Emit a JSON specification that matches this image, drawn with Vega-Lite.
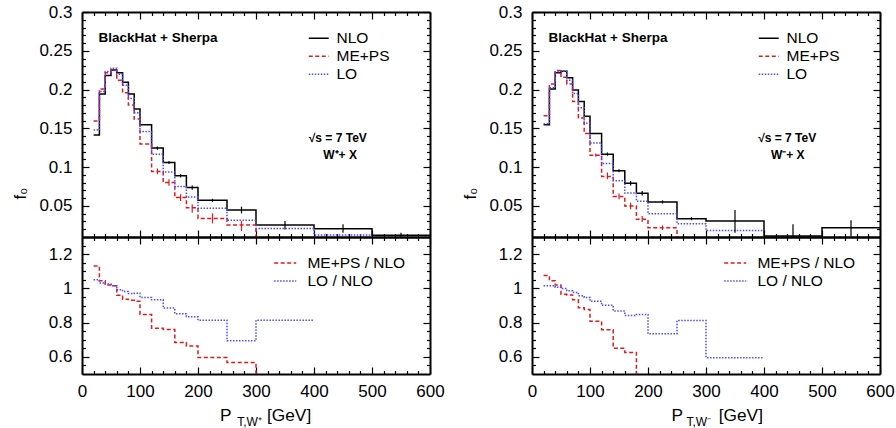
{
"$schema": "https://vega.github.io/schema/vega-lite/v6.json",
"autosize": {"type": "none"},
"padding": {"left": 82, "top": 12, "right": 814, "bottom": 416},
"background": "white",
"columns": 2,
"bounds": "flush",
"spacing": {"row": 0, "column": 102},
"resolve": {"scale": {"color": "independent", "strokeDash": "independent"}},
"config": {
  "view": {"stroke": null},
  "axis": {"grid": false, "labelFlush": false, "labelOverlap": false, "domainColor": "black", "domainWidth": 2, "tickColor": "black", "tickWidth": 1.2, "labelFont": "Liberation Sans", "labelFontSize": 17, "labelColor": "black", "titleFont": "Liberation Sans", "titleFontSize": 17, "titleFontWeight": "normal", "titleColor": "black"},
  "text": {"font": "Liberation Sans", "color": "black"}
},
"datasets": {
  "wp_hist": [
    {"series":"NLO","lo":20,"hi":30,"f":0.1414},{"series":"NLO","lo":30,"hi":40,"f":0.1944},{"series":"NLO","lo":40,"hi":50,"f":0.218},{"series":"NLO","lo":50,"hi":60,"f":0.2254},{"series":"NLO","lo":60,"hi":70,"f":0.2216},{"series":"NLO","lo":70,"hi":80,"f":0.2095},{"series":"NLO","lo":80,"hi":90,"f":0.1944},{"series":"NLO","lo":90,"hi":100,"f":0.175},{"series":"NLO","lo":100,"hi":120,"f":0.1547},{"series":"NLO","lo":120,"hi":140,"f":0.1246},{"series":"NLO","lo":140,"hi":160,"f":0.106},{"series":"NLO","lo":160,"hi":180,"f":0.0888},{"series":"NLO","lo":180,"hi":200,"f":0.0737},{"series":"NLO","lo":200,"hi":250,"f":0.0573},{"series":"NLO","lo":250,"hi":300,"f":0.0448},{"series":"NLO","lo":300,"hi":400,"f":0.0254},{"series":"NLO","lo":400,"hi":500,"f":0.0207},{"series":"NLO","lo":500,"hi":600,"f":0.0121},
    {"series":"ME+PS","lo":20,"hi":30,"f":0.1595},{"series":"ME+PS","lo":30,"hi":40,"f":0.2009},{"series":"ME+PS","lo":40,"hi":50,"f":0.2216},{"series":"ME+PS","lo":50,"hi":60,"f":0.2246},{"series":"ME+PS","lo":60,"hi":70,"f":0.212},{"series":"ME+PS","lo":70,"hi":80,"f":0.196},{"series":"ME+PS","lo":80,"hi":90,"f":0.18},{"series":"ME+PS","lo":90,"hi":100,"f":0.162},{"series":"ME+PS","lo":100,"hi":120,"f":0.13},{"series":"ME+PS","lo":120,"hi":140,"f":0.0944},{"series":"ME+PS","lo":140,"hi":160,"f":0.0802},{"series":"ME+PS","lo":160,"hi":180,"f":0.0608},{"series":"ME+PS","lo":180,"hi":200,"f":0.0478},{"series":"ME+PS","lo":200,"hi":250,"f":0.034},{"series":"ME+PS","lo":250,"hi":300,"f":0.0254},{"series":"ME+PS","lo":300,"hi":400,"f":0.005},
    {"series":"LO","lo":20,"hi":30,"f":0.1478},{"series":"LO","lo":30,"hi":40,"f":0.1974},{"series":"LO","lo":40,"hi":50,"f":0.2233},{"series":"LO","lo":50,"hi":60,"f":0.2276},{"series":"LO","lo":60,"hi":70,"f":0.2198},{"series":"LO","lo":70,"hi":80,"f":0.2057},{"series":"LO","lo":80,"hi":90,"f":0.1886},{"series":"LO","lo":90,"hi":100,"f":0.17},{"series":"LO","lo":100,"hi":120,"f":0.146},{"series":"LO","lo":120,"hi":140,"f":0.1166},{"series":"LO","lo":140,"hi":160,"f":0.0939},{"series":"LO","lo":160,"hi":180,"f":0.075},{"series":"LO","lo":180,"hi":200,"f":0.0616},{"series":"LO","lo":200,"hi":250,"f":0.047},{"series":"LO","lo":250,"hi":300,"f":0.0315},{"series":"LO","lo":300,"hi":400,"f":0.0211},{"series":"LO","lo":400,"hi":500,"f":0.0125}
  ],
  "wp_err": [
    {"series":"NLO","x":130,"lo":0.1226,"hi":0.1266},{"series":"NLO","x":150,"lo":0.104,"hi":0.108},{"series":"NLO","x":170,"lo":0.0868,"hi":0.0908},{"series":"NLO","x":190,"lo":0.071,"hi":0.0765},{"series":"NLO","x":225,"lo":0.0553,"hi":0.0593},{"series":"NLO","x":275,"lo":0.0405,"hi":0.0491},{"series":"NLO","x":350,"lo":0.0198,"hi":0.0306},{"series":"NLO","x":450,"lo":0.0155,"hi":0.0263},{"series":"NLO","x":550,"lo":0.0103,"hi":0.0155},
    {"series":"ME+PS","x":130,"lo":0.0909,"hi":0.0983},{"series":"ME+PS","x":150,"lo":0.0759,"hi":0.0845},{"series":"ME+PS","x":170,"lo":0.0565,"hi":0.065},{"series":"ME+PS","x":190,"lo":0.0414,"hi":0.0522},{"series":"ME+PS","x":225,"lo":0.0276,"hi":0.0405},{"series":"ME+PS","x":275,"lo":0.0177,"hi":0.0306}
  ],
  "wp_ratio": [
    {"series":"ME+PS / NLO","lo":20,"hi":30,"r":1.13},{"series":"ME+PS / NLO","lo":30,"hi":40,"r":1.045},{"series":"ME+PS / NLO","lo":40,"hi":50,"r":1.02},{"series":"ME+PS / NLO","lo":50,"hi":60,"r":1.016},{"series":"ME+PS / NLO","lo":60,"hi":70,"r":0.96},{"series":"ME+PS / NLO","lo":70,"hi":80,"r":0.937},{"series":"ME+PS / NLO","lo":80,"hi":90,"r":0.93},{"series":"ME+PS / NLO","lo":90,"hi":100,"r":0.925},{"series":"ME+PS / NLO","lo":100,"hi":120,"r":0.848},{"series":"ME+PS / NLO","lo":120,"hi":140,"r":0.767},{"series":"ME+PS / NLO","lo":140,"hi":160,"r":0.76},{"series":"ME+PS / NLO","lo":160,"hi":180,"r":0.684},{"series":"ME+PS / NLO","lo":180,"hi":200,"r":0.664},{"series":"ME+PS / NLO","lo":200,"hi":250,"r":0.597},{"series":"ME+PS / NLO","lo":250,"hi":300,"r":0.567},{"series":"ME+PS / NLO","lo":300,"hi":400,"r":0.45},
    {"series":"LO / NLO","lo":20,"hi":30,"r":1.05},{"series":"LO / NLO","lo":30,"hi":40,"r":1.032},{"series":"LO / NLO","lo":40,"hi":50,"r":1.026},{"series":"LO / NLO","lo":50,"hi":60,"r":1.016},{"series":"LO / NLO","lo":60,"hi":70,"r":0.992},{"series":"LO / NLO","lo":70,"hi":80,"r":0.982},{"series":"LO / NLO","lo":80,"hi":90,"r":0.97},{"series":"LO / NLO","lo":90,"hi":100,"r":0.972},{"series":"LO / NLO","lo":100,"hi":120,"r":0.947},{"series":"LO / NLO","lo":120,"hi":140,"r":0.933},{"series":"LO / NLO","lo":140,"hi":160,"r":0.885},{"series":"LO / NLO","lo":160,"hi":180,"r":0.852},{"series":"LO / NLO","lo":180,"hi":200,"r":0.834},{"series":"LO / NLO","lo":200,"hi":250,"r":0.814},{"series":"LO / NLO","lo":250,"hi":300,"r":0.694},{"series":"LO / NLO","lo":300,"hi":400,"r":0.814}
  ],
  "wm_hist": [
    {"series":"NLO","lo":20,"hi":30,"f":0.1547},{"series":"NLO","lo":30,"hi":40,"f":0.2009},{"series":"NLO","lo":40,"hi":50,"f":0.2216},{"series":"NLO","lo":50,"hi":60,"f":0.2237},{"series":"NLO","lo":60,"hi":70,"f":0.2151},{"series":"NLO","lo":70,"hi":80,"f":0.1996},{"series":"NLO","lo":80,"hi":90,"f":0.1845},{"series":"NLO","lo":90,"hi":100,"f":0.1655},{"series":"NLO","lo":100,"hi":120,"f":0.1435},{"series":"NLO","lo":120,"hi":140,"f":0.1168},{"series":"NLO","lo":140,"hi":160,"f":0.0953},{"series":"NLO","lo":160,"hi":180,"f":0.0793},{"series":"NLO","lo":180,"hi":200,"f":0.0664},{"series":"NLO","lo":200,"hi":250,"f":0.0552},{"series":"NLO","lo":250,"hi":300,"f":0.0336},{"series":"NLO","lo":300,"hi":400,"f":0.0306},{"series":"NLO","lo":400,"hi":500,"f":0.0112},{"series":"NLO","lo":500,"hi":600,"f":0.022},
    {"series":"ME+PS","lo":20,"hi":30,"f":0.1664},{"series":"ME+PS","lo":30,"hi":40,"f":0.2073},{"series":"ME+PS","lo":40,"hi":50,"f":0.2246},{"series":"ME+PS","lo":50,"hi":60,"f":0.216},{"series":"ME+PS","lo":60,"hi":70,"f":0.2073},{"series":"ME+PS","lo":70,"hi":80,"f":0.1845},{"series":"ME+PS","lo":80,"hi":90,"f":0.1634},{"series":"ME+PS","lo":90,"hi":100,"f":0.1435},{"series":"ME+PS","lo":100,"hi":120,"f":0.1155},{"series":"ME+PS","lo":120,"hi":140,"f":0.0879},{"series":"ME+PS","lo":140,"hi":160,"f":0.0621},{"series":"ME+PS","lo":160,"hi":180,"f":0.05},{"series":"ME+PS","lo":180,"hi":200,"f":0.0328},{"series":"ME+PS","lo":200,"hi":250,"f":0.022},{"series":"ME+PS","lo":250,"hi":300,"f":0.005},
    {"series":"LO","lo":20,"hi":30,"f":0.156},{"series":"LO","lo":30,"hi":40,"f":0.2025},{"series":"LO","lo":40,"hi":50,"f":0.223},{"series":"LO","lo":50,"hi":60,"f":0.2237},{"series":"LO","lo":60,"hi":70,"f":0.212},{"series":"LO","lo":70,"hi":80,"f":0.1948},{"series":"LO","lo":80,"hi":90,"f":0.1766},{"series":"LO","lo":90,"hi":100,"f":0.1567},{"series":"LO","lo":100,"hi":120,"f":0.131},{"series":"LO","lo":120,"hi":140,"f":0.1047},{"series":"LO","lo":140,"hi":160,"f":0.0825},{"series":"LO","lo":160,"hi":180,"f":0.0666},{"series":"LO","lo":180,"hi":200,"f":0.056},{"series":"LO","lo":200,"hi":250,"f":0.04},{"series":"LO","lo":250,"hi":300,"f":0.0272},{"series":"LO","lo":300,"hi":400,"f":0.0184}
  ],
  "wm_err": [
    {"series":"NLO","x":130,"lo":0.1148,"hi":0.1188},{"series":"NLO","x":150,"lo":0.0933,"hi":0.0973},{"series":"NLO","x":170,"lo":0.0765,"hi":0.0821},{"series":"NLO","x":190,"lo":0.0636,"hi":0.0692},{"series":"NLO","x":225,"lo":0.0532,"hi":0.0572},{"series":"NLO","x":275,"lo":0.0316,"hi":0.0356},{"series":"NLO","x":350,"lo":0.0155,"hi":0.0448},{"series":"NLO","x":450,"lo":0.0103,"hi":0.0263},{"series":"NLO","x":550,"lo":0.0103,"hi":0.0315},
    {"series":"ME+PS","x":110,"lo":0.1135,"hi":0.1175},{"series":"ME+PS","x":130,"lo":0.0845,"hi":0.0931},{"series":"ME+PS","x":150,"lo":0.0586,"hi":0.066},{"series":"ME+PS","x":170,"lo":0.0457,"hi":0.0543},{"series":"ME+PS","x":190,"lo":0.0293,"hi":0.0371},{"series":"ME+PS","x":225,"lo":0.019,"hi":0.025}
  ],
  "wm_ratio": [
    {"series":"ME+PS / NLO","lo":20,"hi":30,"r":1.075},{"series":"ME+PS / NLO","lo":30,"hi":40,"r":1.045},{"series":"ME+PS / NLO","lo":40,"hi":50,"r":1.02},{"series":"ME+PS / NLO","lo":50,"hi":60,"r":0.966},{"series":"ME+PS / NLO","lo":60,"hi":70,"r":0.962},{"series":"ME+PS / NLO","lo":70,"hi":80,"r":0.933},{"series":"ME+PS / NLO","lo":80,"hi":90,"r":0.887},{"series":"ME+PS / NLO","lo":90,"hi":100,"r":0.877},{"series":"ME+PS / NLO","lo":100,"hi":120,"r":0.808},{"series":"ME+PS / NLO","lo":120,"hi":140,"r":0.759},{"series":"ME+PS / NLO","lo":140,"hi":160,"r":0.65},{"series":"ME+PS / NLO","lo":160,"hi":180,"r":0.626},{"series":"ME+PS / NLO","lo":180,"hi":200,"r":0.49},{"series":"ME+PS / NLO","lo":200,"hi":250,"r":0.4},
    {"series":"LO / NLO","lo":20,"hi":30,"r":1.016},{"series":"LO / NLO","lo":30,"hi":40,"r":1.016},{"series":"LO / NLO","lo":40,"hi":50,"r":1.006},{"series":"LO / NLO","lo":50,"hi":60,"r":1.0},{"series":"LO / NLO","lo":60,"hi":70,"r":0.986},{"series":"LO / NLO","lo":70,"hi":80,"r":0.976},{"series":"LO / NLO","lo":80,"hi":90,"r":0.957},{"series":"LO / NLO","lo":90,"hi":100,"r":0.947},{"series":"LO / NLO","lo":100,"hi":120,"r":0.925},{"series":"LO / NLO","lo":120,"hi":140,"r":0.901},{"series":"LO / NLO","lo":140,"hi":160,"r":0.868},{"series":"LO / NLO","lo":160,"hi":180,"r":0.842},{"series":"LO / NLO","lo":180,"hi":200,"r":0.848},{"series":"LO / NLO","lo":200,"hi":250,"r":0.735},{"series":"LO / NLO","lo":250,"hi":300,"r":0.812},{"series":"LO / NLO","lo":300,"hi":400,"r":0.595}
  ]
},
"concat": [
   {
    "width": 348, "height": 225,
    "resolve": {"axis": {"x": "independent", "y": "independent"}},
    "layer": [
     {
      "data": {"name": "wp_hist"},
      "transform": [{"fold": ["lo", "hi"], "as": ["edge", "x"]}],
      "mark": {"type": "line", "clip": true, "strokeWidth": 1.5},
      "encoding": {
       "x": {"field": "x", "type": "quantitative", "scale": {"domain": [0, 600], "nice": false, "zero": false}, "axis": {"orient": "bottom", "values": [0,100,200,300,400,500,600], "tickSize": -7, "labels": false, "title": null}},
       "y": {"field": "f", "type": "quantitative", "scale": {"domain": [0.01, 0.3], "nice": false, "zero": false}, "axis": {"orient": "left", "values": [0.05,0.1,0.15,0.2,0.25,0.3], "tickSize": -7, "labelPadding": 17, "labelExpr": "format(datum.value, '~g')", "title": "f₀", "titleX": -62, "titleY": 181, "titleAngle": 270, "titleAlign": "center", "titleBaseline": "middle"}},
       "color": {"field": "series", "type": "nominal", "scale": {"domain": ["NLO", "ME+PS", "LO"], "range": ["#000000", "#e31a1c", "#4a4aff"]}, "legend": {"orient": "none", "legendX": 227.75, "legendY": 17.25, "title": null, "symbolType": "M-1.21,0H1.21", "symbolSize": 272, "symbolStrokeWidth": 1.5, "labelFont": "Liberation Sans", "labelFontSize": 15.5, "labelColor": "black", "labelOffset": 8.75, "rowPadding": 0, "padding": 0}},
       "strokeDash": {"field": "series", "type": "nominal", "scale": {"domain": ["NLO", "ME+PS", "LO"], "range": [[1, 0], [4, 2.5], [1.5, 1.5]]}, "legend": {"orient": "none", "legendX": 227.75, "legendY": 17.25, "title": null, "symbolType": "M-1.21,0H1.21", "symbolSize": 272, "symbolStrokeWidth": 1.5, "labelFont": "Liberation Sans", "labelFontSize": 15.5, "labelColor": "black", "labelOffset": 8.75, "rowPadding": 0, "padding": 0}}
      }
     },
     {
      "data": {"name": "wp_err"},
      "mark": {"type": "rule", "clip": true, "strokeWidth": 1.2},
      "encoding": {
       "x": {"field": "x", "type": "quantitative", "scale": {"domain": [0, 600], "nice": false, "zero": false}, "axis": {"orient": "bottom", "values": [20,40,60,80,120,140,160,180,220,240,260,280,320,340,360,380,420,440,460,480,520,540,560,580], "tickSize": -3.5, "labels": false, "domain": false, "title": null}},
       "y": {"field": "lo", "type": "quantitative", "scale": {"domain": [0.01, 0.3], "nice": false, "zero": false}, "axis": {"orient": "left", "values": [0.02,0.03,0.04,0.06,0.07,0.08,0.09,0.11,0.12,0.13,0.14,0.16,0.17,0.18,0.19,0.21,0.22,0.23,0.24,0.26,0.27,0.28,0.29], "tickSize": -3.5, "labels": false, "domain": false, "title": null}},
       "y2": {"field": "hi"},
       "color": {"field": "series", "type": "nominal", "scale": {"domain": ["NLO", "ME+PS", "LO"], "range": ["#000000", "#e31a1c", "#4a4aff"]}, "legend": null}
      }
     },
     {
      "data": {"values": [{}]},
      "mark": {"type": "text", "text": "BlackHat + Sherpa", "fontWeight": "bold", "fontSize": 13.5, "align": "left", "baseline": "middle"},
      "encoding": {
       "x": {"datum": 28.5, "type": "quantitative", "scale": {"domain": [0, 600], "nice": false, "zero": false}, "axis": {"orient": "top", "values": [0,100,200,300,400,500,600], "tickSize": -7, "labels": false, "title": null}},
       "y": {"datum": 0.2668, "type": "quantitative", "scale": {"domain": [0.01, 0.3], "nice": false, "zero": false}, "axis": {"orient": "right", "values": [0.05,0.1,0.15,0.2,0.25,0.3], "tickSize": -7, "labels": false, "title": null}}
      }
     },
     {
      "data": {"values": [{}]},
      "mark": {"type": "text", "text": "√s = 7 TeV", "fontWeight": "bold", "fontSize": 12, "align": "center", "baseline": "middle"},
      "encoding": {
       "x": {"datum": 441, "type": "quantitative", "scale": {"domain": [0, 600], "nice": false, "zero": false}, "axis": {"orient": "top", "values": [20,40,60,80,120,140,160,180,220,240,260,280,320,340,360,380,420,440,460,480,520,540,560,580], "tickSize": -3.5, "labels": false, "domain": false, "title": null}},
       "y": {"datum": 0.1376, "type": "quantitative", "scale": {"domain": [0.01, 0.3], "nice": false, "zero": false}, "axis": {"orient": "right", "values": [0.02,0.03,0.04,0.06,0.07,0.08,0.09,0.11,0.12,0.13,0.14,0.16,0.17,0.18,0.19,0.21,0.22,0.23,0.24,0.26,0.27,0.28,0.29], "tickSize": -3.5, "labels": false, "domain": false, "title": null}}
      }
     },
     {
      "data": {"values": [{}]},
      "mark": {"type": "text", "text": "W⁺+ X", "fontWeight": "bold", "fontSize": 12, "align": "center", "baseline": "middle"},
      "encoding": {
       "x": {"datum": 445, "type": "quantitative", "scale": {"domain": [0, 600], "nice": false, "zero": false}, "axis": null},
       "y": {"datum": 0.1156, "type": "quantitative", "scale": {"domain": [0.01, 0.3], "nice": false, "zero": false}, "axis": null}
      }
     }
    ]
   },
   {
    "width": 348, "height": 225,
    "resolve": {"axis": {"x": "independent", "y": "independent"}},
    "layer": [
     {
      "data": {"name": "wm_hist"},
      "transform": [{"fold": ["lo", "hi"], "as": ["edge", "x"]}],
      "mark": {"type": "line", "clip": true, "strokeWidth": 1.5},
      "encoding": {
       "x": {"field": "x", "type": "quantitative", "scale": {"domain": [0, 600], "nice": false, "zero": false}, "axis": {"orient": "bottom", "values": [0,100,200,300,400,500,600], "tickSize": -7, "labels": false, "title": null}},
       "y": {"field": "f", "type": "quantitative", "scale": {"domain": [0.01, 0.3], "nice": false, "zero": false}, "axis": {"orient": "left", "values": [0.05,0.1,0.15,0.2,0.25,0.3], "tickSize": -7, "labelPadding": 17, "labelExpr": "format(datum.value, '~g')", "title": "f₀", "titleX": -62, "titleY": 181, "titleAngle": 270, "titleAlign": "center", "titleBaseline": "middle"}},
       "color": {"field": "series", "type": "nominal", "scale": {"domain": ["NLO", "ME+PS", "LO"], "range": ["#000000", "#e31a1c", "#4a4aff"]}, "legend": {"orient": "none", "legendX": 227.75, "legendY": 17.25, "title": null, "symbolType": "M-1.21,0H1.21", "symbolSize": 272, "symbolStrokeWidth": 1.5, "labelFont": "Liberation Sans", "labelFontSize": 15.5, "labelColor": "black", "labelOffset": 8.75, "rowPadding": 0, "padding": 0}},
       "strokeDash": {"field": "series", "type": "nominal", "scale": {"domain": ["NLO", "ME+PS", "LO"], "range": [[1, 0], [4, 2.5], [1.5, 1.5]]}, "legend": {"orient": "none", "legendX": 227.75, "legendY": 17.25, "title": null, "symbolType": "M-1.21,0H1.21", "symbolSize": 272, "symbolStrokeWidth": 1.5, "labelFont": "Liberation Sans", "labelFontSize": 15.5, "labelColor": "black", "labelOffset": 8.75, "rowPadding": 0, "padding": 0}}
      }
     },
     {
      "data": {"name": "wm_err"},
      "mark": {"type": "rule", "clip": true, "strokeWidth": 1.2},
      "encoding": {
       "x": {"field": "x", "type": "quantitative", "scale": {"domain": [0, 600], "nice": false, "zero": false}, "axis": {"orient": "bottom", "values": [20,40,60,80,120,140,160,180,220,240,260,280,320,340,360,380,420,440,460,480,520,540,560,580], "tickSize": -3.5, "labels": false, "domain": false, "title": null}},
       "y": {"field": "lo", "type": "quantitative", "scale": {"domain": [0.01, 0.3], "nice": false, "zero": false}, "axis": {"orient": "left", "values": [0.02,0.03,0.04,0.06,0.07,0.08,0.09,0.11,0.12,0.13,0.14,0.16,0.17,0.18,0.19,0.21,0.22,0.23,0.24,0.26,0.27,0.28,0.29], "tickSize": -3.5, "labels": false, "domain": false, "title": null}},
       "y2": {"field": "hi"},
       "color": {"field": "series", "type": "nominal", "scale": {"domain": ["NLO", "ME+PS", "LO"], "range": ["#000000", "#e31a1c", "#4a4aff"]}, "legend": null}
      }
     },
     {
      "data": {"values": [{}]},
      "mark": {"type": "text", "text": "BlackHat + Sherpa", "fontWeight": "bold", "fontSize": 13.5, "align": "left", "baseline": "middle"},
      "encoding": {
       "x": {"datum": 28.5, "type": "quantitative", "scale": {"domain": [0, 600], "nice": false, "zero": false}, "axis": {"orient": "top", "values": [0,100,200,300,400,500,600], "tickSize": -7, "labels": false, "title": null}},
       "y": {"datum": 0.2668, "type": "quantitative", "scale": {"domain": [0.01, 0.3], "nice": false, "zero": false}, "axis": {"orient": "right", "values": [0.05,0.1,0.15,0.2,0.25,0.3], "tickSize": -7, "labels": false, "title": null}}
      }
     },
     {
      "data": {"values": [{}]},
      "mark": {"type": "text", "text": "√s = 7 TeV", "fontWeight": "bold", "fontSize": 12, "align": "center", "baseline": "middle"},
      "encoding": {
       "x": {"datum": 440, "type": "quantitative", "scale": {"domain": [0, 600], "nice": false, "zero": false}, "axis": {"orient": "top", "values": [20,40,60,80,120,140,160,180,220,240,260,280,320,340,360,380,420,440,460,480,520,540,560,580], "tickSize": -3.5, "labels": false, "domain": false, "title": null}},
       "y": {"datum": 0.1376, "type": "quantitative", "scale": {"domain": [0.01, 0.3], "nice": false, "zero": false}, "axis": {"orient": "right", "values": [0.02,0.03,0.04,0.06,0.07,0.08,0.09,0.11,0.12,0.13,0.14,0.16,0.17,0.18,0.19,0.21,0.22,0.23,0.24,0.26,0.27,0.28,0.29], "tickSize": -3.5, "labels": false, "domain": false, "title": null}}
      }
     },
     {
      "data": {"values": [{}]},
      "mark": {"type": "text", "text": "W⁻+ X", "fontWeight": "bold", "fontSize": 12, "align": "center", "baseline": "middle"},
      "encoding": {
       "x": {"datum": 441, "type": "quantitative", "scale": {"domain": [0, 600], "nice": false, "zero": false}, "axis": null},
       "y": {"datum": 0.1156, "type": "quantitative", "scale": {"domain": [0.01, 0.3], "nice": false, "zero": false}, "axis": null}
      }
     }
    ]
   },
   {
    "width": 348, "height": 137,
    "resolve": {"axis": {"x": "independent", "y": "independent"}},
    "layer": [
     {
      "data": {"name": "wp_ratio"},
      "transform": [{"fold": ["lo", "hi"], "as": ["edge", "x"]}],
      "mark": {"type": "line", "clip": true, "strokeWidth": 1.5},
      "encoding": {
       "x": {"field": "x", "type": "quantitative", "scale": {"domain": [0, 600], "nice": false, "zero": false}, "axis": {"orient": "bottom", "values": [0,100,200,300,400,500,600], "tickSize": -7, "labelPadding": 16, "labelExpr": "format(datum.value, '~g')", "title": null}},
       "y": {"field": "r", "type": "quantitative", "scale": {"domain": [0.5, 1.3], "nice": false, "zero": false}, "axis": {"orient": "left", "values": [0.6,0.8,1,1.2], "tickSize": -7, "labelPadding": 17, "labelExpr": "format(datum.value, '~g')", "title": null}},
       "color": {"field": "series", "type": "nominal", "scale": {"domain": ["ME+PS / NLO", "LO / NLO"], "range": ["#e31a1c", "#4a4aff"]}, "legend": {"orient": "none", "legendX": 193.7, "legendY": 16.4, "title": null, "symbolType": "M-1.33,0H1.33", "symbolSize": 276, "symbolStrokeWidth": 1.5, "labelFont": "Liberation Sans", "labelFontSize": 15.5, "labelColor": "black", "labelOffset": 12.7, "rowPadding": 0, "padding": 0}},
       "strokeDash": {"field": "series", "type": "nominal", "scale": {"domain": ["ME+PS / NLO", "LO / NLO"], "range": [[4, 2.5], [1.5, 1.5]]}, "legend": {"orient": "none", "legendX": 193.7, "legendY": 16.4, "title": null, "symbolType": "M-1.33,0H1.33", "symbolSize": 276, "symbolStrokeWidth": 1.5, "labelFont": "Liberation Sans", "labelFontSize": 15.5, "labelColor": "black", "labelOffset": 12.7, "rowPadding": 0, "padding": 0}}
      }
     },
     {
      "data": {"values": [{}]},
      "mark": {"type": "text", "text": "P", "fontSize": 17.3, "align": "left", "baseline": "alphabetic"},
      "encoding": {
       "x": {"datum": 238, "type": "quantitative", "scale": {"domain": [0, 600], "nice": false, "zero": false}, "axis": {"orient": "bottom", "values": [20,40,60,80,120,140,160,180,220,240,260,280,320,340,360,380,420,440,460,480,520,540,560,580], "tickSize": -3.5, "labels": false, "domain": false, "title": null}},
       "y": {"datum": 0.227, "type": "quantitative", "scale": {"domain": [0.5, 1.3], "nice": false, "zero": false}, "axis": {"orient": "left", "values": [0.55,0.65,0.7,0.75,0.85,0.9,0.95,1.05,1.1,1.15,1.25], "tickSize": -3.5, "labels": false, "domain": false, "title": null}}
      }
     },
     {
      "data": {"values": [{}]},
      "mark": {"type": "text", "text": "T,W⁺", "fontSize": 12, "align": "left", "baseline": "alphabetic"},
      "encoding": {
       "x": {"datum": 267.5, "type": "quantitative", "scale": {"domain": [0, 600], "nice": false, "zero": false}, "axis": {"orient": "top", "values": [0,100,200,300,400,500,600], "tickSize": -7, "labels": false, "title": null}},
       "y": {"datum": 0.196, "type": "quantitative", "scale": {"domain": [0.5, 1.3], "nice": false, "zero": false}, "axis": {"orient": "right", "values": [0.6,0.8,1,1.2], "tickSize": -7, "labels": false, "title": null}}
      }
     },
     {
      "data": {"values": [{}]},
      "mark": {"type": "text", "text": "[GeV]", "fontSize": 17.3, "align": "left", "baseline": "alphabetic"},
      "encoding": {
       "x": {"datum": 319, "type": "quantitative", "scale": {"domain": [0, 600], "nice": false, "zero": false}, "axis": {"orient": "top", "values": [20,40,60,80,120,140,160,180,220,240,260,280,320,340,360,380,420,440,460,480,520,540,560,580], "tickSize": -3.5, "labels": false, "domain": false, "title": null}},
       "y": {"datum": 0.227, "type": "quantitative", "scale": {"domain": [0.5, 1.3], "nice": false, "zero": false}, "axis": {"orient": "right", "values": [0.55,0.65,0.7,0.75,0.85,0.9,0.95,1.05,1.1,1.15,1.25], "tickSize": -3.5, "labels": false, "domain": false, "title": null}}
      }
     }
    ]
   },
   {
    "width": 348, "height": 137,
    "resolve": {"axis": {"x": "independent", "y": "independent"}},
    "layer": [
     {
      "data": {"name": "wm_ratio"},
      "transform": [{"fold": ["lo", "hi"], "as": ["edge", "x"]}],
      "mark": {"type": "line", "clip": true, "strokeWidth": 1.5},
      "encoding": {
       "x": {"field": "x", "type": "quantitative", "scale": {"domain": [0, 600], "nice": false, "zero": false}, "axis": {"orient": "bottom", "values": [0,100,200,300,400,500,600], "tickSize": -7, "labelPadding": 16, "labelExpr": "format(datum.value, '~g')", "title": null}},
       "y": {"field": "r", "type": "quantitative", "scale": {"domain": [0.5, 1.3], "nice": false, "zero": false}, "axis": {"orient": "left", "values": [0.6,0.8,1,1.2], "tickSize": -7, "labelPadding": 17, "labelExpr": "format(datum.value, '~g')", "title": null}},
       "color": {"field": "series", "type": "nominal", "scale": {"domain": ["ME+PS / NLO", "LO / NLO"], "range": ["#e31a1c", "#4a4aff"]}, "legend": {"orient": "none", "legendX": 193.7, "legendY": 16.4, "title": null, "symbolType": "M-1.33,0H1.33", "symbolSize": 276, "symbolStrokeWidth": 1.5, "labelFont": "Liberation Sans", "labelFontSize": 15.5, "labelColor": "black", "labelOffset": 12.7, "rowPadding": 0, "padding": 0}},
       "strokeDash": {"field": "series", "type": "nominal", "scale": {"domain": ["ME+PS / NLO", "LO / NLO"], "range": [[4, 2.5], [1.5, 1.5]]}, "legend": {"orient": "none", "legendX": 193.7, "legendY": 16.4, "title": null, "symbolType": "M-1.33,0H1.33", "symbolSize": 276, "symbolStrokeWidth": 1.5, "labelFont": "Liberation Sans", "labelFontSize": 15.5, "labelColor": "black", "labelOffset": 12.7, "rowPadding": 0, "padding": 0}}
      }
     },
     {
      "data": {"values": [{}]},
      "mark": {"type": "text", "text": "P", "fontSize": 17.3, "align": "left", "baseline": "alphabetic"},
      "encoding": {
       "x": {"datum": 240.6, "type": "quantitative", "scale": {"domain": [0, 600], "nice": false, "zero": false}, "axis": {"orient": "bottom", "values": [20,40,60,80,120,140,160,180,220,240,260,280,320,340,360,380,420,440,460,480,520,540,560,580], "tickSize": -3.5, "labels": false, "domain": false, "title": null}},
       "y": {"datum": 0.227, "type": "quantitative", "scale": {"domain": [0.5, 1.3], "nice": false, "zero": false}, "axis": {"orient": "left", "values": [0.55,0.65,0.7,0.75,0.85,0.9,0.95,1.05,1.1,1.15,1.25], "tickSize": -3.5, "labels": false, "domain": false, "title": null}}
      }
     },
     {
      "data": {"values": [{}]},
      "mark": {"type": "text", "text": "T,W⁻", "fontSize": 12, "align": "left", "baseline": "alphabetic"},
      "encoding": {
       "x": {"datum": 266.4, "type": "quantitative", "scale": {"domain": [0, 600], "nice": false, "zero": false}, "axis": {"orient": "top", "values": [0,100,200,300,400,500,600], "tickSize": -7, "labels": false, "title": null}},
       "y": {"datum": 0.196, "type": "quantitative", "scale": {"domain": [0.5, 1.3], "nice": false, "zero": false}, "axis": {"orient": "right", "values": [0.6,0.8,1,1.2], "tickSize": -7, "labels": false, "title": null}}
      }
     },
     {
      "data": {"values": [{}]},
      "mark": {"type": "text", "text": "[GeV]", "fontSize": 17.3, "align": "left", "baseline": "alphabetic"},
      "encoding": {
       "x": {"datum": 322, "type": "quantitative", "scale": {"domain": [0, 600], "nice": false, "zero": false}, "axis": {"orient": "top", "values": [20,40,60,80,120,140,160,180,220,240,260,280,320,340,360,380,420,440,460,480,520,540,560,580], "tickSize": -3.5, "labels": false, "domain": false, "title": null}},
       "y": {"datum": 0.227, "type": "quantitative", "scale": {"domain": [0.5, 1.3], "nice": false, "zero": false}, "axis": {"orient": "right", "values": [0.55,0.65,0.7,0.75,0.85,0.9,0.95,1.05,1.1,1.15,1.25], "tickSize": -3.5, "labels": false, "domain": false, "title": null}}
      }
     }
    ]
   }
]
}
